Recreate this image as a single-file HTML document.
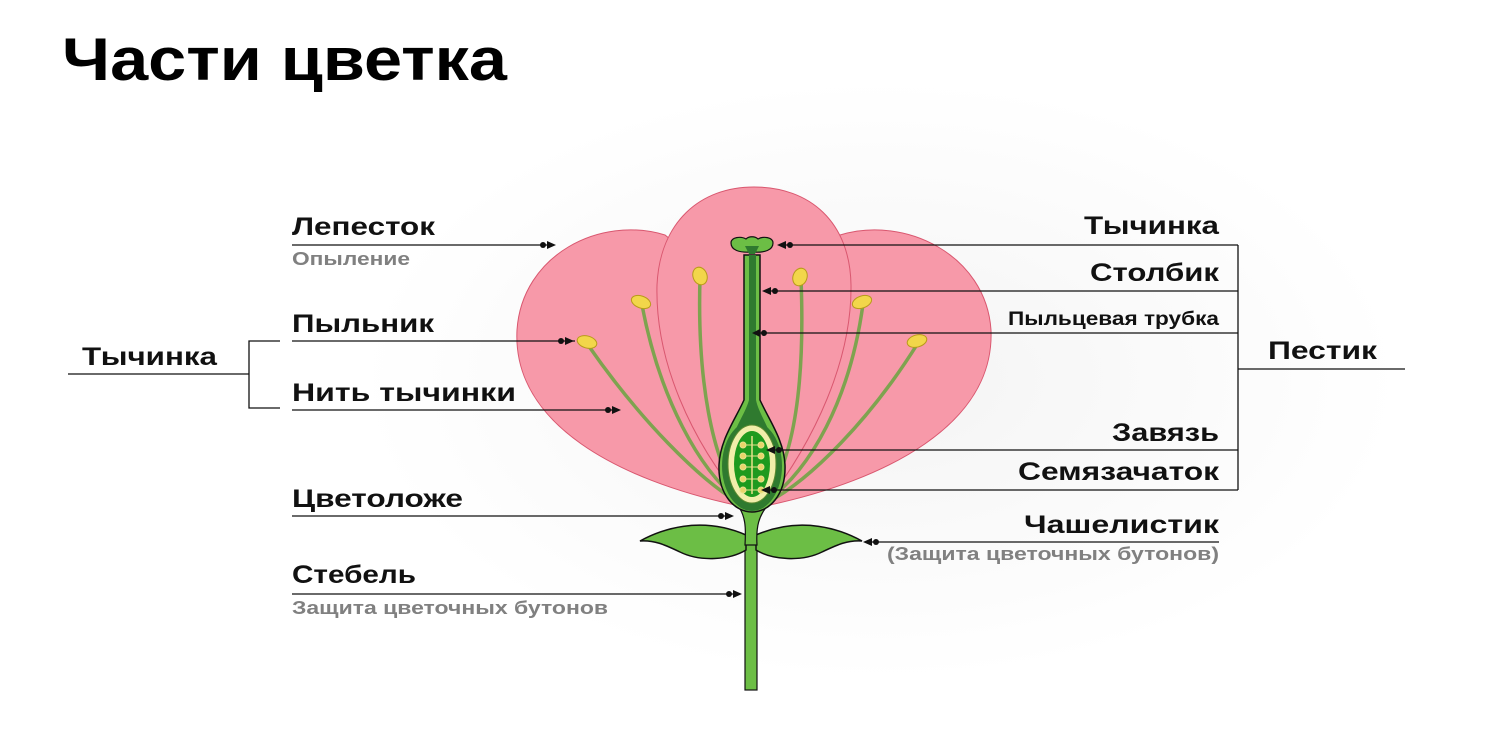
<!DOCTYPE html>
<html><head><meta charset="utf-8"><style>
html,body{margin:0;padding:0;background:#fff;}
svg{display:block;}
text{font-family:"Liberation Sans","DejaVu Sans",sans-serif;font-weight:bold;}
</style></head><body>
<svg width="1506" height="755" viewBox="0 0 1506 755" xmlns="http://www.w3.org/2000/svg">
<defs>
<radialGradient id="bg" cx="0.5" cy="0.5" r="0.5">
<stop offset="0" stop-color="#f4f4f4"/><stop offset="1" stop-color="#ffffff"/>
</radialGradient>
</defs>
<rect width="1506" height="755" fill="#fff"/>
<ellipse cx="880" cy="380" rx="520" ry="300" fill="url(#bg)"/>
<text x="62" y="80" font-size="60" fill="#000" textLength="445" lengthAdjust="spacingAndGlyphs">Части цветка</text>

<!-- petals -->
<g fill="#f799a9" stroke="#d9576f" stroke-width="1">
<path d="M735,505 C620,480 512,425 517,330 C522,255 600,215 665,235 L745,300 Z"/>
<path d="M770,505 C885,480 995,425 991,330 C986,255 905,215 840,235 L760,300 Z"/>
<path d="M745,505 C690,440 655,360 657,285 C660,222 700,187 754,187 C810,187 850,222 851,285 C852,360 815,440 765,505 Z"/>
</g>
<!-- filaments -->
<g fill="none" stroke="#7ea34f" stroke-width="3.5">
<path d="M588,345 C640,420 700,480 738,502"/>
<path d="M642,305 C660,400 700,470 738,500"/>
<path d="M700,278 C697,380 712,460 740,498"/>
<path d="M801,279 C805,380 795,460 765,498"/>
<path d="M863,304 C850,400 810,470 768,500"/>
<path d="M918,343 C870,420 810,480 768,502"/>
</g>
<g fill="#f2d64a" stroke="#b89a1a" stroke-width="1">
<ellipse cx="587" cy="342" rx="10" ry="6" transform="rotate(15 587 342)"/>
<ellipse cx="641" cy="302" rx="10" ry="6" transform="rotate(20 641 302)"/>
<ellipse cx="700" cy="276" rx="7" ry="9" transform="rotate(-20 700 276)"/>
<ellipse cx="800" cy="277" rx="7" ry="9" transform="rotate(20 800 277)"/>
<ellipse cx="862" cy="302" rx="10" ry="6" transform="rotate(-20 862 302)"/>
<ellipse cx="917" cy="341" rx="10" ry="6" transform="rotate(-15 917 341)"/>
</g>
<!-- stem -->
<rect x="745" y="535" width="12" height="155" fill="#6cbe45" stroke="#111" stroke-width="1.2"/>
<!-- sepals -->
<g fill="#6cbe45" stroke="#111" stroke-width="1.5">
<path d="M640,541 C660,530 700,515 746,535 L746,550 C730,560 700,562 680,552 C665,545 655,540 640,541 Z"/>
<path d="M862,541 C842,530 802,515 756,535 L756,550 C772,560 802,562 822,552 C837,545 847,540 862,541 Z"/>
</g>
<!-- receptacle + pistil -->
<path d="M736,503 C746,515 746,528 745,545 L757,545 C756,528 758,515 770,503 Z" fill="#6cbe45" stroke="#111" stroke-width="1.2"/>
<path d="M744,255 L744,400 C735,420 720,440 719,465 C718,495 735,512 752,512 C769,512 786,495 785,465 C784,440 769,420 760,400 L760,255 Z" fill="#6cbe45" stroke="#111" stroke-width="1.5"/>
<path d="M749,255 L749,400 C745,415 732,430 730,450 L774,450 C772,430 759,415 756,400 L756,255 Z" fill="#2f7a2f"/>
<ellipse cx="752" cy="466" rx="30" ry="45" fill="#2f7a2f"/>
<ellipse cx="752" cy="464" rx="24" ry="39" fill="#f1eeaa" stroke="#5a8a30" stroke-width="1"/>
<ellipse cx="752" cy="464" rx="18" ry="33" fill="#1e9a1e"/>
<line x1="752" y1="436" x2="752" y2="494" stroke="#e8e08a" stroke-width="1.5"/>
<g fill="#e8d56a" stroke="#e8e08a" stroke-width="1">
<g id="ov"><line x1="743" y1="445" x2="761" y2="445"/><circle cx="743" cy="445" r="3"/><circle cx="761" cy="445" r="3"/></g>
<use href="#ov" y="11"/><use href="#ov" y="22"/><use href="#ov" y="34"/><use href="#ov" y="45"/>
</g>
<path d="M731,243 C731,237 741,236 746,239 C749,236 755,236 758,239 C763,236 773,237 773,243 C773,250 765,253 752,252 C739,253 731,250 731,243 Z" fill="#6cbe45" stroke="#111" stroke-width="1.2"/>
<path d="M745,246 L759,246 L755,254 L749,254 Z" fill="#2f7a2f"/>

<!-- leader lines -->
<g stroke="#111" stroke-width="1.3" fill="none">
<line x1="292" y1="245" x2="550" y2="245"/>
<line x1="292" y1="341" x2="575" y2="341"/>
<line x1="292" y1="410" x2="618" y2="410"/>
<line x1="292" y1="516" x2="732" y2="516"/>
<line x1="292" y1="594" x2="740" y2="594"/>
<line x1="68" y1="374" x2="249" y2="374"/>
<polyline points="280,341 249,341 249,408 280,408"/>
<line x1="782" y1="245" x2="1238" y2="245"/>
<line x1="767" y1="291" x2="1238" y2="291"/>
<line x1="759" y1="333" x2="1238" y2="333"/>
<line x1="772" y1="450" x2="1238" y2="450"/>
<line x1="765" y1="490" x2="1238" y2="490"/>
<line x1="1238" y1="245" x2="1238" y2="490"/>
<line x1="1238" y1="369" x2="1405" y2="369"/>
<line x1="866" y1="542" x2="1219" y2="542"/>
</g>
<g fill="#111">
<circle cx="543" cy="245" r="3"/><path d="M547,241 L556,245 L547,249 Z"/>
<circle cx="561" cy="341" r="3"/><path d="M565,337 L574,341 L565,345 Z"/>
<circle cx="608" cy="410" r="3"/><path d="M612,406 L621,410 L612,414 Z"/>
<circle cx="721" cy="516" r="3"/><path d="M725,512 L734,516 L725,520 Z"/>
<circle cx="729" cy="594" r="3"/><path d="M733,590 L742,594 L733,598 Z"/>
<circle cx="790" cy="245" r="3"/><path d="M786,241 L777,245 L786,249 Z"/>
<circle cx="775" cy="291" r="3"/><path d="M771,287 L762,291 L771,295 Z"/>
<circle cx="764" cy="333" r="3"/><path d="M760,329 L752,333 L760,337 Z"/>
<circle cx="779" cy="450" r="3"/><path d="M775,446 L766,450 L775,454 Z"/>
<circle cx="774" cy="490" r="3"/><path d="M770,486 L761,490 L770,494 Z"/>
<circle cx="876" cy="542" r="3"/><path d="M872,538 L863,542 L872,546 Z"/>
</g>

<!-- labels -->
<g font-size="25" fill="#111">
<text x="292" y="235" textLength="143" lengthAdjust="spacingAndGlyphs">Лепесток</text>
<text x="292" y="332" textLength="142" lengthAdjust="spacingAndGlyphs">Пыльник</text>
<text x="292" y="401" textLength="224" lengthAdjust="spacingAndGlyphs">Нить тычинки</text>
<text x="292" y="507" textLength="171" lengthAdjust="spacingAndGlyphs">Цветоложе</text>
<text x="292" y="583" textLength="124" lengthAdjust="spacingAndGlyphs">Стебель</text>
<text x="82" y="365" textLength="135" lengthAdjust="spacingAndGlyphs">Тычинка</text>
<text x="1084" y="234" textLength="135" lengthAdjust="spacingAndGlyphs">Тычинка</text>
<text x="1090" y="281" textLength="129" lengthAdjust="spacingAndGlyphs">Столбик</text>
<text x="1268" y="359" textLength="109" lengthAdjust="spacingAndGlyphs">Пестик</text>
<text x="1112" y="441" textLength="107" lengthAdjust="spacingAndGlyphs">Завязь</text>
<text x="1018" y="480" textLength="201" lengthAdjust="spacingAndGlyphs">Семязачаток</text>
<text x="1024" y="533" textLength="195" lengthAdjust="spacingAndGlyphs">Чашелистик</text>
</g>
<text x="1008" y="325" font-size="19" fill="#111" textLength="211" lengthAdjust="spacingAndGlyphs">Пыльцевая трубка</text>
<g font-size="18" fill="#808080">
<text x="292" y="265" textLength="118" lengthAdjust="spacingAndGlyphs">Опыление</text>
<text x="292" y="614" textLength="316" lengthAdjust="spacingAndGlyphs">Защита цветочных бутонов</text>
<text x="887" y="560" textLength="332" lengthAdjust="spacingAndGlyphs">(Защита цветочных бутонов)</text>
</g>
</svg>
</body></html>
